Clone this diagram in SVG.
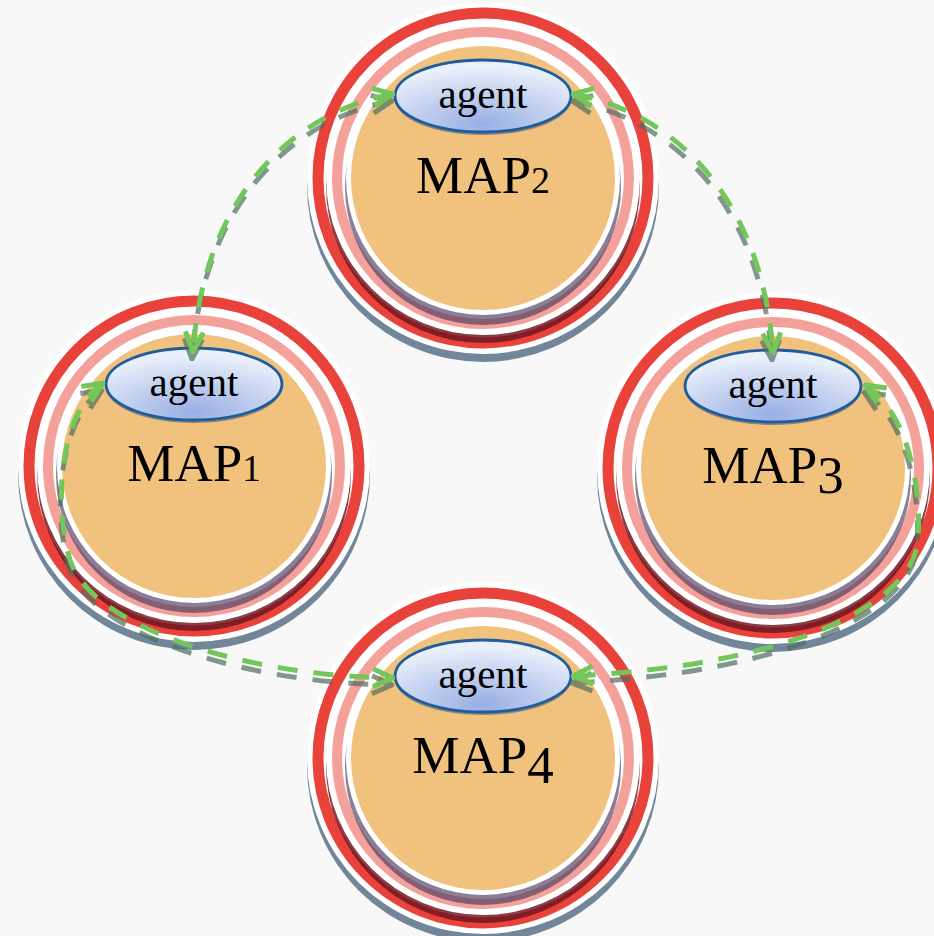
<svg xmlns="http://www.w3.org/2000/svg" xmlns:xlink="http://www.w3.org/1999/xlink" width="934" height="936" viewBox="0 0 934 936">
<style>
.shA{fill:#72869a}
.wd{fill:#ffffff}
.red{fill:none;stroke:#e8423a;stroke-width:11}
.shB{fill:#6e1320;opacity:.82}
.pink{fill:none;stroke:#f4a19b;stroke-width:10}
.shC{fill:#4a3a5e;opacity:.65}
.org{fill:#f0c27e}
.agent{fill:url(#ag);stroke:#1f5c9e;stroke-width:2.8}
.agsh{fill:#34506e;opacity:.55}
.t1{font-family:"Liberation Serif","Times New Roman",serif;font-size:41px;text-anchor:middle;fill:#000}
.t2{font-family:"Liberation Serif","Times New Roman",serif;font-size:53px;text-anchor:middle;fill:#000}
.con{fill:none;stroke:#72c65a;stroke-width:5;stroke-dasharray:20 16}
.consh{fill:none;stroke:#4f6f60;stroke-width:5;stroke-dasharray:20 16;opacity:.7}
</style>
<defs>
<radialGradient id="ag" cx="0.5" cy="0.85" r="0.75" fx="0.5" fy="0.9">
<stop offset="0" stop-color="#98aee3"/>
<stop offset="1" stop-color="#eaf0fb"/>
</radialGradient>
<marker id="ah" viewBox="-24 -12 26 24" markerWidth="26" markerHeight="24" refX="0" refY="0" orient="auto-start-reverse" markerUnits="userSpaceOnUse">
<path d="M-20,-9 L0,0 L-20,9" fill="none" stroke="#72c65a" stroke-width="5" stroke-dasharray="none"/>
</marker>
<marker id="ahs" viewBox="-24 -12 26 24" markerWidth="26" markerHeight="24" refX="0" refY="0" orient="auto-start-reverse" markerUnits="userSpaceOnUse">
<path d="M-20,-9 L0,0 L-20,9" fill="none" stroke="#4f6f60" stroke-width="5" stroke-dasharray="none"/>
</marker>
<g id="rings">
<circle class="shA" cx="0" cy="8" r="176"/>
<circle class="wd" cx="0" cy="0" r="176"/>
<circle class="red" cx="0" cy="0" r="165"/>
<circle class="shB" cx="0" cy="8" r="157"/>
<circle class="wd" cx="0" cy="0" r="157"/>
<circle class="pink" cx="0" cy="0" r="146"/>
<circle class="shC" cx="0" cy="9" r="138"/>
<circle class="wd" cx="0" cy="0" r="137"/>
<circle class="org" cx="0" cy="0" r="132"/>
<ellipse class="agsh" cx="0" cy="-79" rx="88" ry="36"/>
<ellipse class="agent" cx="0" cy="-82" rx="88" ry="36"/>
</g>
</defs>
<rect x="0" y="0" width="934" height="936" fill="#f8f8f8"/>

<g id="map2" transform="translate(483,178)">
<use href="#rings"/>
<text class="t1" x="0" y="-70">agent</text>
<text class="t2" x="0" y="15">MAP<tspan font-size="38">2</tspan></text>
</g>

<g id="map1" transform="translate(194,466)">
<use href="#rings"/>
<text class="t1" x="0" y="-70">agent</text>
<text class="t2" x="0" y="15">MAP<tspan font-size="37">1</tspan></text>
</g>

<g id="map3" transform="translate(773,468)">
<use href="#rings"/>
<text class="t1" x="0" y="-70">agent</text>
<text class="t2" x="0" y="15">MAP<tspan dy="10">3</tspan></text>
</g>

<g id="map4" transform="translate(483,758)">
<use href="#rings"/>
<text class="t1" x="0" y="-70">agent</text>
<text class="t2" x="0" y="15">MAP<tspan dy="10">4</tspan></text>
</g>

<g id="connectors">
<g transform="translate(-1,7)">
<path class="consh" d="M393,94 C310,108 205,180 193,352" marker-start="url(#ahs)" marker-end="url(#ahs)"/>
<path class="consh" d="M573,94 C656,108 761,180 773,353" marker-start="url(#ahs)" marker-end="url(#ahs)"/>
<path class="consh" d="M103,383 C62,410 52,500 70,560 C90,625 240,676 393,678" marker-start="url(#ahs)" marker-end="url(#ahs)"/>
<path class="consh" d="M865,385 C905,410 922,480 918,540 C914,600 800,665 573,676" marker-start="url(#ahs)" marker-end="url(#ahs)"/>
</g>
<path class="con" d="M393,94 C310,108 205,180 193,352" marker-start="url(#ah)" marker-end="url(#ah)"/>
<path class="con" d="M573,94 C656,108 761,180 773,353" marker-start="url(#ah)" marker-end="url(#ah)"/>
<path class="con" d="M103,383 C62,410 52,500 70,560 C90,625 240,676 393,678" marker-start="url(#ah)" marker-end="url(#ah)"/>
<path class="con" d="M865,385 C905,410 922,480 918,540 C914,600 800,665 573,676" marker-start="url(#ah)" marker-end="url(#ah)"/>
</g>
</svg>
